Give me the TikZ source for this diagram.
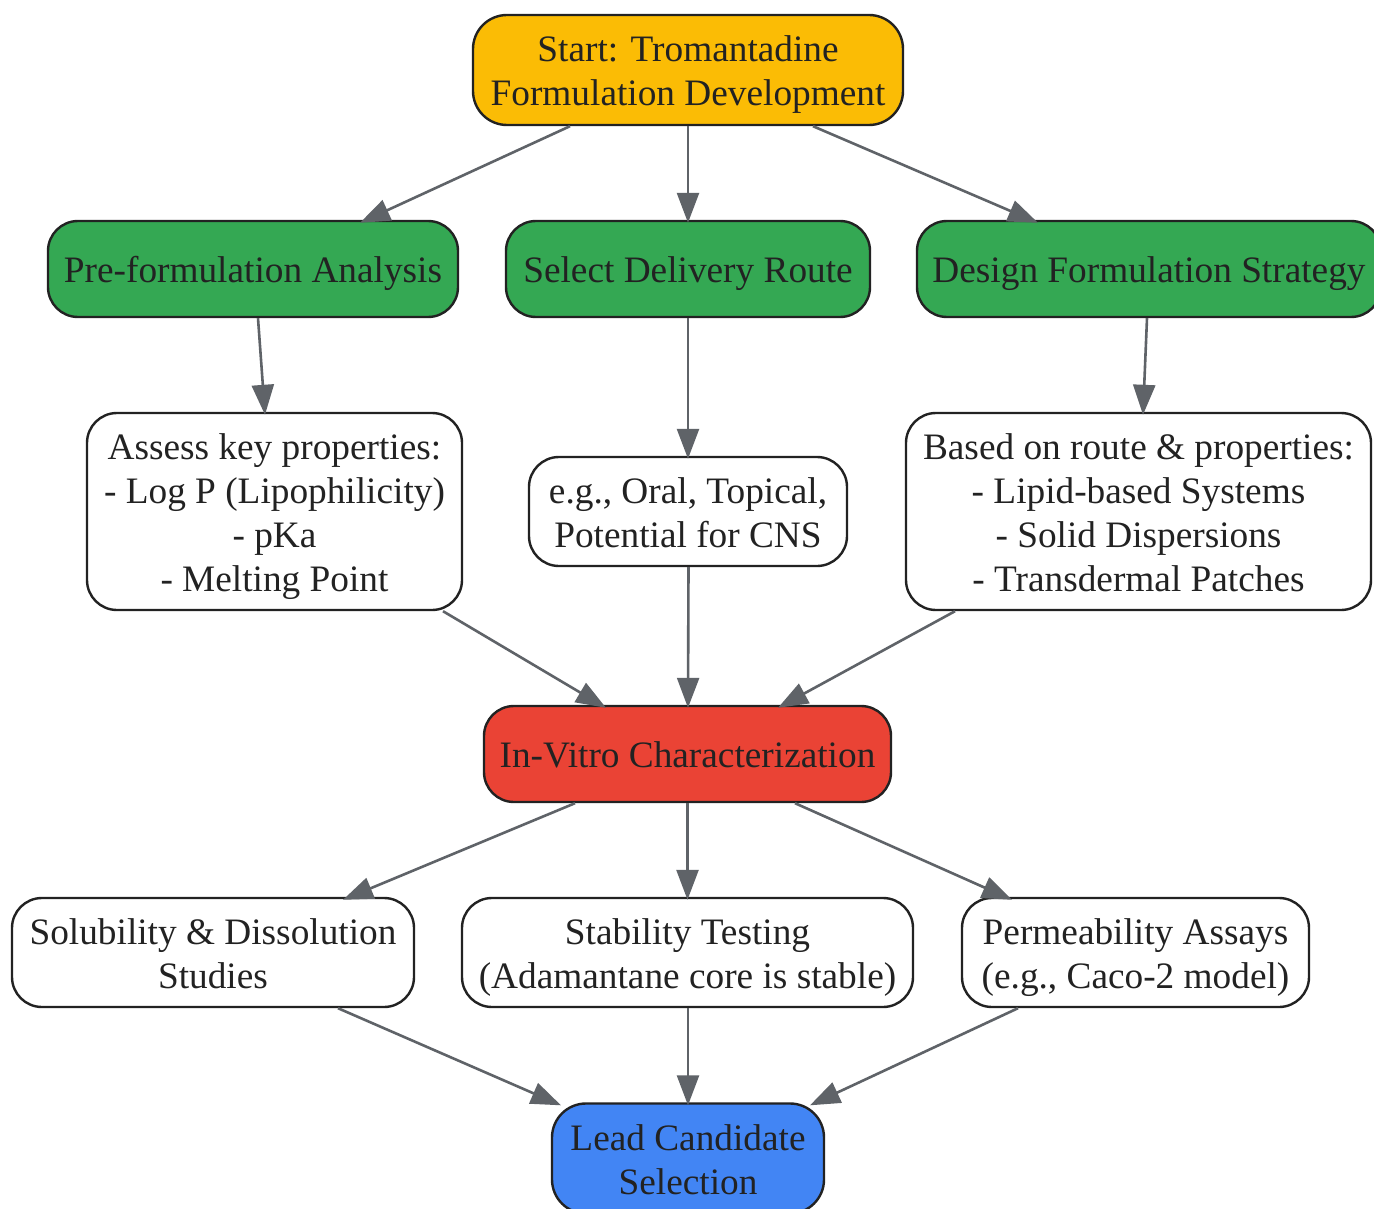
\documentclass[tikz,border=0pt]{standalone}
\usepackage{fontspec}
\setmainfont{Liberation Serif}
\usetikzlibrary{arrows.meta}
\definecolor{cyellow}{HTML}{FBBC05}
\definecolor{cgreen}{HTML}{34A853}
\definecolor{cred}{HTML}{EA4335}
\definecolor{cblue}{HTML}{4285F4}
\definecolor{cedge}{HTML}{5F6368}
\definecolor{cborder}{HTML}{222222}
\definecolor{ctext}{HTML}{222222}
\newcommand{\tx}[1]{\raisebox{-5pt}[\height][\depth]{\begin{tabular}{@{}c@{}}#1\end{tabular}}}
\begin{document}
\begin{tikzpicture}[x=1pt,y=-1pt,
  box/.style={draw=cborder, line width=2.4pt, rounded corners=30pt,
    inner sep=0pt, text=ctext, font=\fontsize{37.3}{44}\selectfont},
  arr/.style={draw=cedge, line width=2.6pt, -{Triangle[length=30pt,width=22pt]}}]
\useasboundingbox (0,0) rectangle (1374,1209);
\clip (0,0) rectangle (1374,1209);
\fill[white] (0,0) rectangle (1374,1209);

\node[box, fill=cyellow, minimum width=430pt, minimum height=110pt, rounded corners=34pt] (start) at (688,70) {\tx{Start: Tromantadine\\Formulation Development}};
\node[box, fill=cgreen, minimum width=410pt, minimum height=96pt] (pre) at (253,269) {\tx{Pre-formulation Analysis}};
\node[box, fill=cgreen, minimum width=364pt, minimum height=96pt] (select) at (688,269) {\tx{Select Delivery Route}};
\node[box, fill=cgreen, minimum width=464pt, minimum height=96pt] (design) at (1149,269) {\tx{Design Formulation Strategy}};
\node[box, fill=white, minimum width=375pt, minimum height=197pt] (assess) at (274.5,511.5) {\tx{Assess key properties:\\- Log P (Lipophilicity)\\- pKa\\- Melting Point}};
\node[box, fill=white, minimum width=318pt, minimum height=109pt] (eg) at (688,511.5) {\tx{e.g., Oral, Topical,\\Potential for CNS}};
\node[box, fill=white, minimum width=465pt, minimum height=197pt] (based) at (1138.5,511.5) {\tx{Based on route \& properties:\\- Lipid-based Systems\\- Solid Dispersions\\- Transdermal Patches}};
\node[box, fill=cred, minimum width=407pt, minimum height=96pt] (invitro) at (687.5,754) {\tx{In-Vitro Characterization}};
\node[box, fill=white, minimum width=402pt, minimum height=109pt] (sol) at (213,952.5) {\tx{Solubility \& Dissolution\\Studies}};
\node[box, fill=white, minimum width=451pt, minimum height=109pt] (stab) at (687.5,952.5) {\tx{Stability Testing\\(Adamantane core is stable)}};
\node[box, fill=white, minimum width=347pt, minimum height=109pt] (perm) at (1135.5,952.5) {\tx{Permeability Assays\\(e.g., Caco-2 model)}};
\node[box, fill=cblue, minimum width=272pt, minimum height=110pt, rounded corners=34pt] (lead) at (688,1158.5) {\tx{Lead Candidate\\Selection}};

\draw[arr] ([xshift=-118pt]start.south) -- ([xshift=107pt,yshift=-3pt]pre.north);
\draw[arr] (start.south) -- ([yshift=-3pt]select.north);
\draw[arr] ([xshift=125pt]start.south) -- ([xshift=-111pt,yshift=-3pt]design.north);
\draw[arr] ([xshift=5pt]pre.south) -- ([xshift=-9.5pt,yshift=-3pt]assess.north);
\draw[arr] (select.south) -- ([yshift=-3pt]eg.north);
\draw[arr] ([xshift=-2pt]design.south) -- ([xshift=4.5pt,yshift=-3pt]based.north);
\draw[arr] ([xshift=168.5pt]assess.south) -- ([xshift=-81.5pt,yshift=-3pt]invitro.north);
\draw[arr] ([xshift=0.5pt]eg.south) -- ([xshift=0.5pt,yshift=-3pt]invitro.north);
\draw[arr] ([xshift=-183.5pt]based.south) -- ([xshift=90.5pt,yshift=-3pt]invitro.north);
\draw[arr] ([xshift=-112.5pt]invitro.south) -- ([xshift=130pt,yshift=-3pt]sol.north);
\draw[arr] (invitro.south) -- ([yshift=-3pt]stab.north);
\draw[arr] ([xshift=107.5pt]invitro.south) -- ([xshift=-123.5pt,yshift=-3pt]perm.north);
\draw[arr] ([xshift=125pt]sol.south) -- ([xshift=-127pt,yshift=-3pt]lead.north);
\draw[arr] ([xshift=0.5pt]stab.south) -- ([yshift=-3pt]lead.north);
\draw[arr] ([xshift=-117.5pt]perm.south) -- ([xshift=122pt,yshift=-3pt]lead.north);
\end{tikzpicture}
\end{document}
